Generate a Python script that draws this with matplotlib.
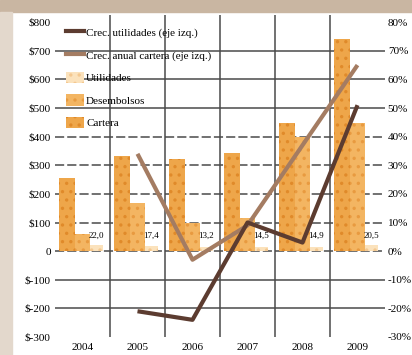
import numpy as np
import matplotlib.pyplot as plt
import matplotlib.patches as mpatches
import matplotlib.lines as mlines

years = ['2004', '2005', '2006', '2007', '2008', '2009']
cartera = [255, 332, 322, 342, 448, 741]
desembolsos = [59, 168, 98, 115, 400, 448]
utilidades = [22.0, 17.4, 13.2, 14.5, 14.9, 20.5]
util_labels = ['22,0', '17,4', '13,2', '14,5', '14,9', '20,5']
crec_util = [np.nan, -21, -24, 10, 3, 51]
crec_cartera = [np.nan, 34, -3, 9, 37, 65]

left_ticks = [800, 700, 600, 500, 400, 300, 200, 100, 0, -100, -200, -300]
left_labels = ['$800', '$700', '$600', '$500', '$400', '$300', '$200', '$100',
               '0', '$-100', '$-200', '$-300']
right_ticks = [80, 70, 60, 50, 40, 30, 20, 10, 0, -10, -20, -30]
right_labels = ['80%', '70%', '60%', '50%', '40%', '30%', '20%', '10%',
                '0%', '-10%', '-20%', '-30%']

plt.rcParams['font.family'] = 'Liberation Serif'
plt.rcParams['hatch.linewidth'] = 1.2

fig = plt.figure(figsize=(4.12, 3.55), dpi=100)
fig.patch.set_facecolor('white')
# frame decoration
fig.add_artist(mpatches.Rectangle((0, 1 - 12/355), 1, 12/355, transform=fig.transFigure,
                                  color='#c9b6a2', zorder=0))
fig.add_artist(mpatches.Rectangle((0, 0), 12/412, 1 - 12/355, transform=fig.transFigure,
                                  color='#e3d8cc', zorder=0))

ax = fig.add_axes([55/412, 18/355, 330/412, 322/355])
ax.set_facecolor('none')
x = np.arange(len(years))
w = 0.28

gc = '#4a4a4a'
for v in [700, 600, 500, -100, -200]:
    ax.axhline(v, color=gc, lw=1.1, zorder=1)
for v in [400, 300, 200, 100, 0]:
    ax.axhline(v, color=gc, lw=1.1, ls=(0, (6, 2)), zorder=1)
for s in x[:-1] + 0.5:
    ax.axvline(s, color=gc, lw=1.1, zorder=1)

ax.bar(x - w, cartera, w, color='#eea64a', edgecolor='#e08a2a', hatch='..',
       lw=0, zorder=2, label='Cartera')
ax.bar(x, desembolsos, w, color='#f3b562', edgecolor='#e89a40', hatch='..',
       lw=0, zorder=2, label='Desembolsos')
ax.bar(x + w * 0.9, utilidades, w * 0.85, color='#fbe2bc', edgecolor='#f4c890', hatch='..',
       lw=0, zorder=2, label='Utilidades')
for i, t in enumerate(util_labels):
    ax.text(x[i] + w * 0.9, 38, t, ha='center', va='bottom', fontsize=6.5, zorder=3)

ax.set_xlim(-0.5, 5.5)
ax.set_ylim(-300, 825)
ax.set_yticks(left_ticks)
ax.set_yticklabels(left_labels, fontsize=8)
ax.set_xticks(x)
ax.set_xticklabels(years, fontsize=8)
ax.tick_params(axis='both', length=0, pad=3)
ax.tick_params(axis='x', pad=4)
for sp in ax.spines.values():
    sp.set_visible(False)

ax2 = ax.twinx()
ax2.set_ylim(-30, 82.5)
ax2.plot(x, crec_cartera, color='#a47c62', lw=3, zorder=5, solid_capstyle='butt')
ax2.plot(x, crec_util, color='#5c3c30', lw=3, zorder=6, solid_capstyle='butt')
ax2.set_yticks(right_ticks)
ax2.set_yticklabels(right_labels, fontsize=8)
ax2.tick_params(axis='y', length=0, pad=2)
for sp in ax2.spines.values():
    sp.set_visible(False)

handles = [
    mlines.Line2D([], [], color='#5c3c30', lw=3),
    mlines.Line2D([], [], color='#a47c62', lw=3),
    mpatches.Patch(facecolor='#fbe2bc', edgecolor='#f4c890', hatch='..', lw=0),
    mpatches.Patch(facecolor='#f3b562', edgecolor='#e89a40', hatch='..', lw=0),
    mpatches.Patch(facecolor='#eea64a', edgecolor='#e08a2a', hatch='..', lw=0),
]
labels = ['Crec. utilidades (eje izq.)', 'Crec. anual cartera (eje izq.)',
          'Utilidades', 'Desembolsos', 'Cartera']
leg = ax2.legend(handles, labels, loc='upper left', bbox_to_anchor=(0.0, 1.0),
                 frameon=False, fontsize=8, handlelength=1.6, handleheight=1.2,
                 handletextpad=0.2, labelspacing=1.0, borderaxespad=0.6)
leg.set_zorder(10)

fig.savefig('out.png', dpi=100)
